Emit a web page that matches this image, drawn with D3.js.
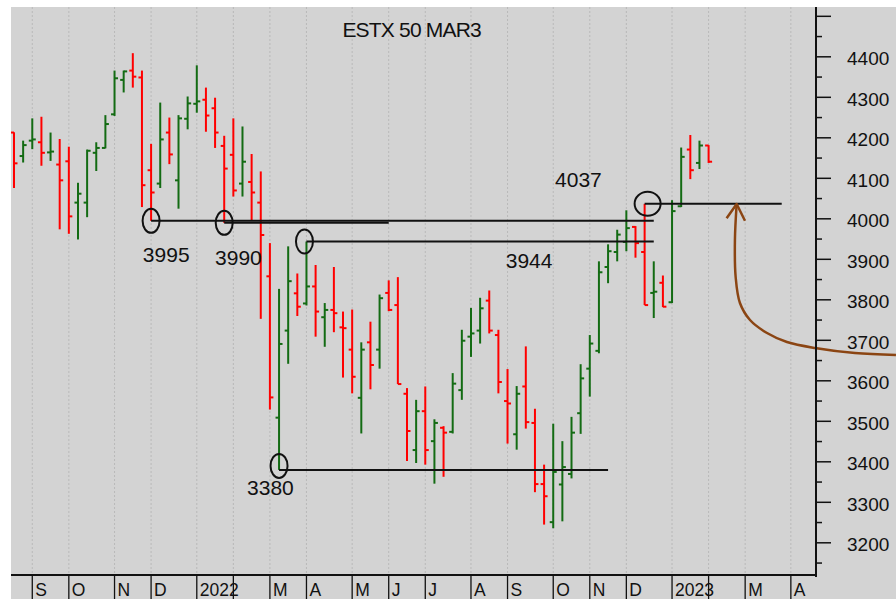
<!DOCTYPE html>
<html><head><meta charset="utf-8">
<script src="https://cdn.jsdelivr.net/npm/d3@7"></script>
<style>
body{margin:0;background:#fff}
svg{display:block}
text{font-family:"Liberation Sans",Arial,Helvetica,sans-serif;fill:#111}
</style>
</head><body>
<svg id="chart" width="896" height="599"></svg>
<script>
// ---------------- data ----------------
const title = "ESTX 50 MAR3";
const firstWeek = "2021-08-20";          // Friday of the first weekly bar
const opens  = [4213,4155,4193,4189,4164,4134,4142,4040,4040,4163,4175,4258,4343,4366,4349,4120,4087,4213,4095,4247,
                4284,4294,4273,4180,4158,4087,4091,4040,3858,3509,3724,3816,3791,3833,3757,3775,3732,3677,3558,3695,
                3677,3817,3787,3568,3429,3525,3451,3484,3474,3577,3709,3724,3798,3713,3550,3468,3586,3496,3345,3251,
                3344,3370,3520,3630,3674,3881,3918,3943,3980,3918,3817,3842,3794,4031,4171,4138,4181];
const highs  = [4214,4193,4248,4252,4213,4197,4178,4089,4171,4189,4256,4366,4366,4409,4366,4185,4287,4250,4256,4302,
                4379,4324,4299,4205,4248,4228,4160,4117,3940,3827,3932,3865,3944,3886,3792,3881,3771,3776,3695,3746,
                3813,3848,3856,3582,3553,3586,3505,3488,3619,3726,3780,3805,3823,3726,3629,3587,3685,3531,3393,3494,
                3451,3511,3641,3713,3895,3937,3973,4021,3982,4037,3895,3860,4046,4176,4207,4193,4182];
const lows   = [4076,4139,4172,4131,4143,3974,3963,3949,4004,4118,4174,4254,4312,4324,4029,3995,4076,4135,4025,4221,
                4262,4215,4175,3990,4055,4055,3996,3753,3529,3380,3642,3760,3786,3709,3684,3720,3608,3569,3470,3579,
                3630,3772,3592,3402,3397,3393,3346,3363,3470,3553,3659,3692,3717,3569,3445,3430,3482,3325,3245,3236,
                3253,3359,3469,3561,3668,3841,3895,3920,3904,3787,3755,3782,3792,4029,4098,4123,4138];
const closes = [4137,4182,4196,4163,4166,4095,4006,4062,4168,4175,4234,4347,4364,4351,4083,4065,4196,4159,4248,4285,
                4290,4255,4213,4124,4070,4141,4065,3960,3559,3691,3846,3783,3833,3771,3775,3767,3730,3610,3677,3639,
                3804,3775,3592,3476,3525,3429,3496,3472,3593,3699,3717,3779,3724,3597,3544,3568,3498,3345,3315,3375,
                3387,3472,3606,3692,3868,3920,3961,3977,3940,3787,3820,3783,4019,4153,4120,4181,4141];

const priceLabels = [3200,3300,3400,3500,3600,3700,3800,3900,4000,4100,4200,4300,4400];
// January shows the year; February is hidden under the year label
const monthLetters = ["", "", "M","A","M","J","J","A","S","O","N","D"];

// support / resistance annotations (week index, price)
const levelValues = [3995, 3990, 3944, 3380, 4037];
const levelFrom   = [15, 23, 32, 29, 69];
const levelTo     = [70, 41, 70, 65, 84];
const levelLabelX = [14.1, 22.0, 53.8, 25.5, 59.2];
const levelLabelY = [3894, 3886, 3878, 3318, 4079];

// hand-drawn brown arrow (week index, price)
const arrowShaft = [[79.07,4036.5],[78.88,3947.7],[78.96,3856.3],[79.43,3792.1],[80.53,3750.1],
                    [82.39,3718.0],[84.57,3695.8],[87.64,3681.0],[92.01,3668.6],[96.5,3663.7]];
const arrowHead  = [[77.97,4001.2],[79.07,4036.5],[79.98,3995.3]];

// ---------------- drawing ----------------
const W = 896, H = 599;
const L = 11, T = 7, R = 816, B = 575;
const svg = d3.select("#chart");

const x = d3.scaleLinear().domain([0, 76]).range([14, 708.6]);
const y = d3.scaleLinear().domain([3120.5, 4523]).range([B, T]);

svg.append("rect").attr("x", L).attr("y", T).attr("width", W - L).attr("height", H - T).attr("fill", "#d3d3d3");

const defs = svg.append("defs");
defs.append("clipPath").attr("id", "plot").append("rect").attr("x", L).attr("y", T).attr("width", R - L).attr("height", B - T);

// month ticks from weekly calendar
const start = d3.timeParse("%Y-%m-%d")(firstWeek);
const weeks = [];
for (let i = -4; i <= 92; i++) weeks.push({i, d: d3.timeWeek.offset(start, i)});
const monthTicks = [];
weeks.forEach((w, k) => {
  if (k === 0) return;
  if (w.d.getMonth() !== weeks[k - 1].d.getMonth()) {
    const m = w.d.getMonth();
    monthTicks.push({i: w.i, label: m === 0 ? String(w.d.getFullYear()) : monthLetters[m]});
  }
});
const visTicks = monthTicks.filter(t => x(t.i) > L && x(t.i) < R);

// grid
svg.append("g").selectAll("line").data(visTicks).join("line")
  .attr("x1", t => x(t.i)).attr("x2", t => x(t.i)).attr("y1", T).attr("y2", B)
  .attr("stroke", "#b9b9b9").attr("stroke-width", 1).attr("stroke-dasharray", "2,2");

// title
svg.append("text").attr("x", 411.7).attr("y", 37).attr("text-anchor", "middle")
  .attr("font-size", 21).attr("letter-spacing", "-0.8px").text(title);

// OHLC bars
const bars = d3.range(opens.length).map(i => ({i, o: opens[i], h: highs[i], l: lows[i], c: closes[i]}));
const gBars = svg.append("g").attr("clip-path", "url(#plot)");
const col = d => d.c >= d.o ? "#136b13" : "#ff0000";
const bg = gBars.selectAll("g").data(bars).join("g").attr("stroke", col).attr("stroke-width", 2);
bg.append("line").attr("x1", d => x(d.i)).attr("x2", d => x(d.i)).attr("y1", d => y(d.h)).attr("y2", d => y(d.l));
bg.append("line").attr("x1", d => x(d.i) - 3.5).attr("x2", d => x(d.i)).attr("y1", d => y(d.o)).attr("y2", d => y(d.o));
bg.append("line").attr("x1", d => x(d.i)).attr("x2", d => x(d.i) + 3.5).attr("y1", d => y(d.c)).attr("y2", d => y(d.c));

// annotations
const ann = levelValues.map((v, k) => ({v, from: levelFrom[k], to: levelTo[k], lx: levelLabelX[k], ly: levelLabelY[k], rx: v === 4037 ? 13 : 8.5}));
const gA = svg.append("g");
gA.selectAll("line").data(ann).join("line")
  .attr("x1", d => x(d.from)).attr("x2", d => x(d.to)).attr("y1", d => y(d.v)).attr("y2", d => y(d.v))
  .attr("stroke", "#111").attr("stroke-width", 2);
gA.selectAll("ellipse").data(ann).join("ellipse")
  .attr("cx", d => x(d.from) + (d.v === 4037 ? 3 : (d.v === 3944 ? -2 : 0))).attr("cy", d => y(d.v) + (d.v === 3380 ? -4 : 0))
  .attr("rx", d => d.rx).attr("ry", 12).attr("fill", "none").attr("stroke", "#111").attr("stroke-width", 2);
gA.selectAll("text").data(ann).join("text")
  .attr("x", d => x(d.lx)).attr("y", d => y(d.ly)).attr("font-size", 21).text(d => d.v);

// brown arrow
const line = d3.line().x(p => x(p[0])).y(p => y(p[1]));
svg.append("path").attr("d", line.curve(d3.curveCatmullRom)(arrowShaft))
  .attr("fill", "none").attr("stroke", "#8b4513").attr("stroke-width", 2.5);
svg.append("path").attr("d", d3.line().x(p => x(p[0])).y(p => y(p[1]))(arrowHead))
  .attr("fill", "none").attr("stroke", "#8b4513").attr("stroke-width", 2.5).attr("stroke-linejoin", "round");

// right price axis
const gy = svg.append("g");
gy.append("line").attr("x1", R).attr("x2", R).attr("y1", T).attr("y2", B + 2).attr("stroke", "#111").attr("stroke-width", 2);
const tickVals = d3.range(3150, 4501, 50);
gy.selectAll("line.t").data(tickVals).join("line").attr("class", "t")
  .attr("x1", R).attr("x2", v => v % 100 === 0 ? R + 15 : R + 6)
  .attr("y1", v => y(v)).attr("y2", v => y(v)).attr("stroke", "#111").attr("stroke-width", 1.5);
gy.selectAll("text").data(priceLabels).join("text")
  .attr("x", 847).attr("y", v => y(v) + 2).attr("dominant-baseline", "central")
  .attr("font-size", 19).text(v => v);

// bottom time axis
const gx = svg.append("g");
gx.append("line").attr("x1", L).attr("x2", R + 1).attr("y1", B).attr("y2", B).attr("stroke", "#111").attr("stroke-width", 2);
gx.selectAll("line.s").data(visTicks).join("line").attr("class", "s")
  .attr("x1", t => x(t.i)).attr("x2", t => x(t.i)).attr("y1", B).attr("y2", H).attr("stroke", "#111").attr("stroke-width", 1.3);
gx.selectAll("text").data(visTicks.filter(t => t.label)).join("text")
  .attr("x", t => x(t.i) + 3).attr("y", 595.5).attr("font-size", 17.5).text(t => t.label);
</script>
</body></html>
